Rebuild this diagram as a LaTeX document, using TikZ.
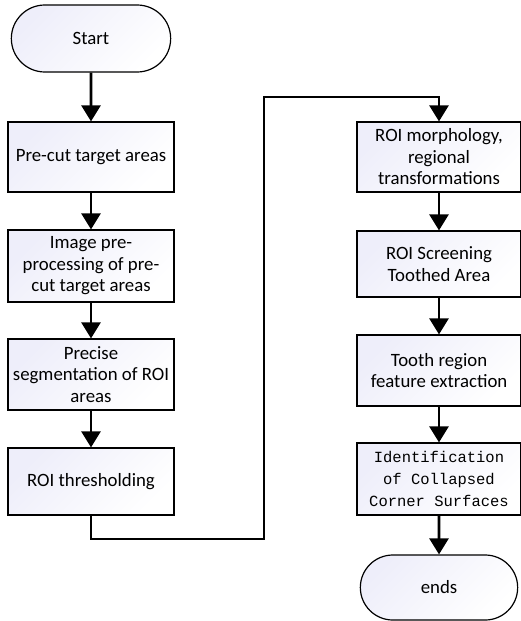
\documentclass[tikz,border=0pt]{standalone}
\usepackage{fontspec}
\setmainfont{Carlito}
\newfontfamily\monof{Liberation Mono}
\usetikzlibrary{shapes.misc,arrows.meta}
\definecolor{roifill}{RGB}{238,238,250}
\tikzset{
  procbox/.style={draw=black, line width=1.2pt, rectangle, minimum height=#1, align=center,
    top color=roifill, bottom color=white, shading angle=45,
    font=\fontsize{18.8}{21.5}\selectfont, inner sep=2pt},
  procbox/.default=70pt,
  termbox/.style={draw=black, line width=1.2pt, rounded rectangle, minimum height=#1,
    top color=roifill, bottom color=white, shading angle=45,
    font=\fontsize{18.8}{21.5}\selectfont},
  termbox/.default=66pt,
  flow/.style={line width=2.6pt, -{Triangle[width=19pt,length=16pt]}},
}
\begin{document}
\begin{tikzpicture}[x=1pt,y=-1pt]
\useasboundingbox (0,0) rectangle (521,621);
% left column
\node[termbox=67pt, minimum width=166pt] (start) at (91,38.5) {Start};
\node[procbox=70pt, minimum width=166pt] (b1) at (91,157) {Pre-cut target areas};
\node[procbox=72pt, minimum width=166pt] (b2) at (91,266) {Image pre-\\processing of pre-\\cut target areas};
\node[procbox=71pt, minimum width=166pt] (b3) at (91,374.5) {Precise\\segmentation of ROI\\areas};
\node[procbox=67pt, minimum width=166pt] (b4) at (91,481.5) {ROI thresholding};
% right column
\node[procbox=70pt, minimum width=164pt] (b5) at (439,157) {ROI morphology,\\regional\\transformations};
\node[procbox=66pt, minimum width=164pt] (b6) at (439,264) {ROI Screening\\Toothed Area};
\node[procbox=71pt, minimum width=164pt] (b7) at (439,370.5) {Tooth region\\feature extraction};
\node[procbox=72pt, minimum width=164pt, font=\monof\fontsize{15.5}{22}\selectfont] (b8) at (439,479) {Identification\\of Collapsed\\Corner Surfaces};
\node[termbox=65pt, minimum width=164pt] (ends) at (439,587.5) {ends};
% connectors
\draw[flow] (start) -- (b1);
\draw[flow] (b1) -- (b2);
\draw[flow] (b2) -- (b3);
\draw[flow] (b3) -- (b4);
\coordinate (c1) at (91,539);
\coordinate (c2) at (264,539);
\coordinate (c3) at (264,97);
\coordinate (c4) at (439,97);
\draw[flow, line join=miter] (b4.south) -- (c1) -- (c2) -- (c3) -- (c4) -- (b5.north);
\draw[flow] (b5) -- (b6);
\draw[flow] (b6) -- (b7);
\draw[flow] (b7) -- (b8);
\draw[flow] (b8) -- (ends);
\end{tikzpicture}
\end{document}
